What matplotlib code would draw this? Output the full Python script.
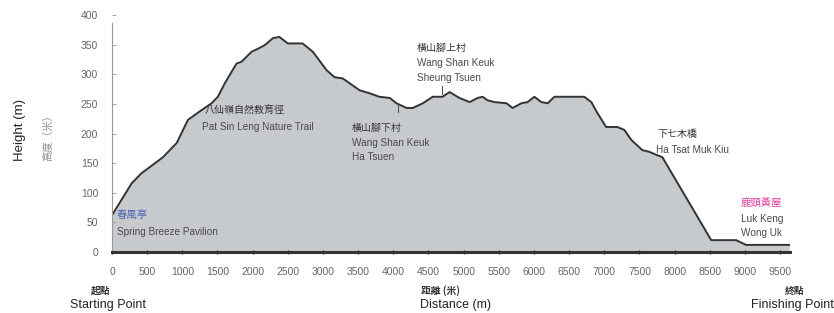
import matplotlib
matplotlib.use("Agg")
import matplotlib.pyplot as plt

plt.rcParams['font.family'] = ['Liberation Sans', 'Noto Sans CJK TC', 'DejaVu Sans']
CJK = ['Noto Sans CJK TC', 'DejaVu Sans']
LAT = ['Liberation Sans', 'DejaVu Sans']

# Profile data (distance in m, height in m)
distance = [0, 280, 420, 725, 920, 1080, 1220, 1415, 1505, 1605, 1770, 1840, 1985, 2075,
            2170, 2290, 2380, 2500, 2710, 2855, 3050, 3165, 3280, 3520, 3660, 3800, 3950,
            4045, 4190, 4275, 4420, 4560, 4700, 4800, 4940, 5085, 5200, 5270, 5340, 5440,
            5610, 5695, 5820, 5910, 6005, 6105, 6195, 6290, 6435, 6715, 6815, 6900, 7025,
            7185, 7285, 7385, 7540, 7640, 7740, 7825, 8520, 8875, 9015, 9630]
height = [62, 116, 133, 160, 184, 223, 235, 251, 262, 285, 318, 321, 338, 343,
          349, 361, 363, 352, 352, 338, 307, 295, 293, 273, 268, 262, 260,
          251, 243, 243, 251, 262, 262, 270, 260, 253, 260, 262, 256, 253,
          251, 243, 251, 253, 262, 253, 251, 262, 262, 262, 253, 235, 211,
          211, 206, 189, 172, 169, 164, 160, 20, 20, 12, 12]

x_ticks = list(range(0, 10000, 500))
y_ticks = [0, 50, 100, 150, 200, 250, 300, 350, 400]

W, H = 834, 313
fig = plt.figure(figsize=(W / 100, H / 100), dpi=100)
ax = fig.add_axes([112 / W, (H - 252) / H, (790 - 112) / W, (252 - 15) / H])
ax.set_xlim(0, 9640)
ax.set_ylim(0, 400)

ax.fill_between(distance, height, 0, color='#c6cacd', lw=0)
ax.plot(distance, height, color='#333333', lw=1.4, solid_joinstyle='round')

for s in ['top', 'right']:
    ax.spines[s].set_visible(False)
ax.spines['bottom'].set_color('#333333')
ax.spines['bottom'].set_linewidth(2.2)
ax.spines['bottom'].set_bounds(0, 9640)
ax.spines['left'].set_color('#999999')
ax.spines['left'].set_linewidth(0.8)
ax.spines['left'].set_bounds(0, 386)

ax.set_xticks(x_ticks)
ax.set_yticks(y_ticks)
ax.tick_params(axis='x', direction='inout', length=3, width=1, color='#333333',
               labelsize=7.5, labelcolor='#666666', pad=9)
ax.tick_params(axis='y', direction='in', length=3, width=0.6, color='#999999',
               labelsize=7.5, labelcolor='#666666', pad=10)
ax.set_facecolor('none')

def px(xp, yp):
    return xp / W, 1 - yp / H

# Axis titles
fig.text(*px(20, 130), 'Height (m)', rotation=90, ha='center', va='center',
         fontsize=9.5, color='#222222', family=LAT)
fig.text(*px(48, 135), '高度（米）', rotation=90, ha='center', va='center',
         fontsize=7.5, color='#8a8a8a', family=CJK)
fig.text(*px(101, 291), '起點', ha='center', va='center', fontsize=7,
         color='#333333', fontweight='bold', family=CJK)
fig.text(*px(108, 305), 'Starting Point', ha='center', va='center',
         fontsize=9, color='#222222', family=LAT)
fig.text(*px(440, 291), '距離 (米)', ha='center', va='center', fontsize=7,
         color='#333333', fontweight='bold', family=CJK)
fig.text(*px(455, 305), 'Distance (m)', ha='center', va='center',
         fontsize=9, color='#222222', family=LAT)
fig.text(*px(795, 291), '終點', ha='center', va='center', fontsize=7,
         color='#333333', fontweight='bold', family=CJK)
fig.text(*px(792, 305), 'Finishing Point', ha='center', va='center',
         fontsize=9, color='#222222', family=LAT)

def lbl(xp, yp, s, color='#4a4a4a', size=7.2, fam=LAT):
    fig.text(*px(xp, yp), s, ha='left', va='center', fontsize=size, color=color, family=fam)

lbl(117, 216, '春風亭', color='#4a64b4', size=7.5, fam=CJK)
lbl(117, 232, 'Spring Breeze Pavilion')
lbl(205, 111, '八仙嶺自然教育徑', color='#333333', size=7.2, fam=CJK)
lbl(202, 127, 'Pat Sin Leng Nature Trail')
lbl(352, 128, '橫山腳下村', color='#333333', size=7.2, fam=CJK)
lbl(352, 143, 'Wang Shan Keuk')
lbl(352, 157, 'Ha Tsuen')
lbl(417, 48, '橫山腳上村', color='#333333', size=7.2, fam=CJK)
lbl(417, 63, 'Wang Shan Keuk')
lbl(417, 78, 'Sheung Tsuen')
lbl(658, 134, '下七木橋', color='#333333', size=7.2, fam=CJK)
lbl(656, 150, 'Ha Tsat Muk Kiu')
lbl(741, 203, '鹿頸黃屋', color='#e0409c', size=7.5, fam=CJK)
lbl(741, 219, 'Luk Keng')
lbl(741, 233, 'Wong Uk')

# small pointer marks
fig.add_artist(plt.Line2D([398 / W, 398 / W], [1 - 105 / H, 1 - 112 / H],
                          color='#555555', lw=0.8))
fig.add_artist(plt.Line2D([442 / W, 442 / W], [1 - 86 / H, 1 - 94 / H],
                          color='#555555', lw=0.8))

fig.savefig('out.png', dpi=100)
